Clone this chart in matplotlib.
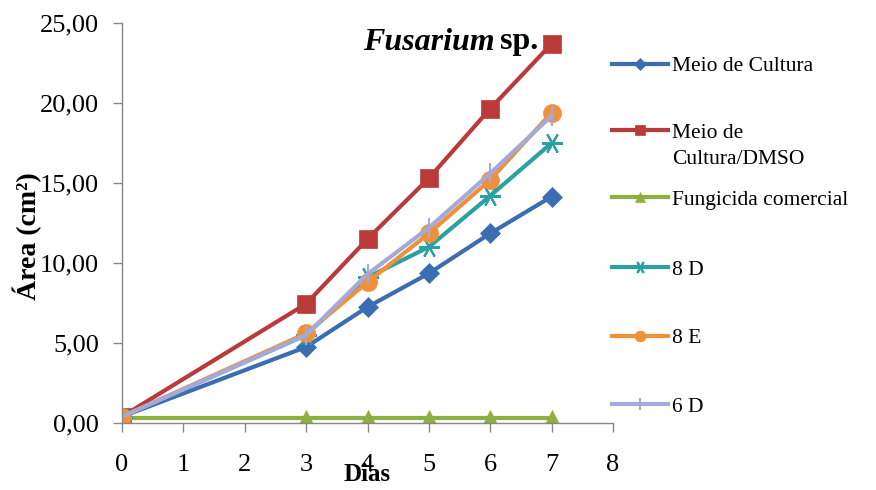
import numpy as np
import matplotlib
matplotlib.use('Agg')
import matplotlib.pyplot as plt

plt.rcParams['font.family'] = ['Liberation Serif', 'DejaVu Serif']

# dias de medição
dias = [0, 3, 4, 5, 6, 7]

# área média do micélio (cm²)
meio_cultura = [0.40, 4.75, 7.25, 9.35, 11.85, 14.15]
meio_dmso = [0.40, 7.45, 11.50, 15.30, 19.65, 23.70]
fungicida = [0.30, 0.30, 0.30, 0.30, 0.30, 0.30]
trat_8d = [0.40, 5.50, 9.10, 11.00, 14.20, 17.50]
trat_8e = [0.40, 5.60, 8.80, 11.85, 15.20, 19.40]
trat_6d = [0.40, 5.50, 9.30, 12.20, 15.60, 19.20]

labels = ['Meio de Cultura', 'Meio de', 'Fungicida comercial',
          '8 D', '8 E', '6 D']
yticks = [0, 5, 10, 15, 20, 25]
ytick_labels = ['0,00', '5,00', '10,00', '15,00', '20,00', '25,00']

series = [meio_cultura, meio_dmso, fungicida, trat_8d, trat_8e, trat_6d]
cores = ['#3B6DB3', '#BA3A3A', '#8FB040', '#2AA1A4', '#F0913A', '#A3AAD8']
marcas = ['D', 's', '^', (6, 2, 90), 'o', '|']
tamanhos = [10, 13, 12, 15, 13, 14]

W, H = 876, 490
fig = plt.figure(figsize=(W / 100, H / 100), dpi=100)
ax = fig.add_axes([122 / W, 1 - 423 / H, 491 / W, 400 / H])

linhas = []
for vals, cor, mk, ms, lab in zip(series, cores, marcas, tamanhos, labels):
    ln, = ax.plot(dias, vals, color=cor, marker=mk, markersize=ms, linewidth=3,
                  markeredgewidth=1.5 if mk in ('|', (6, 2, 90)) else 0.5,
                  markeredgecolor=cor, label=lab)
    linhas.append(ln)

ax.set_xlim(0, 8)
ax.set_ylim(0, 25)
ax.set_xticks(range(0, 9))
ax.set_yticks(yticks)
ax.set_yticklabels(ytick_labels)
ax.tick_params(labelsize=19, length=6.5, width=1, color='#888888')
ax.tick_params(axis='y', pad=10)
ax.tick_params(axis='x', pad=16)
for s in ['top', 'right']:
    ax.spines[s].set_visible(False)
for s in ['left', 'bottom']:
    ax.spines[s].set_color('#888888')
    ax.spines[s].set_linewidth(1)

ax.set_xlabel('Dias', fontsize=18, fontweight='bold', va='top')
ax.xaxis.set_label_coords(0.5, -0.1)
ax.set_ylabel('Área (cm²)', fontsize=20, fontweight='bold')
ax.yaxis.set_label_coords(-0.163, 0.4675)

# título dentro da área do gráfico
fig.text(495 / W, 1 - 42 / H, 'Fusarium', fontsize=23, fontweight='bold',
         style='italic', ha='right', va='center')
fig.text(500 / W, 1 - 42 / H, 'sp.', fontsize=23, fontweight='bold',
         ha='left', va='center')

# legenda: uma entrada por linha, espaçadas como no original
leg_y = [66, 133, 200, 270, 338, 407]
for ln, lab, yy in zip(linhas, labels, leg_y):
    fig.legend([ln], [lab], loc='center left',
               bbox_to_anchor=(612 / W, 1 - yy / H),
               frameon=False, fontsize=15.5, handlelength=2.6,
               handletextpad=0.2, borderpad=0, borderaxespad=0,
               markerscale=0.6)
fig.text(672 / W, 1 - 160 / H, 'Cultura/DMSO', fontsize=15.5,
         ha='left', va='center')

fig.savefig('out.png', dpi=100)
